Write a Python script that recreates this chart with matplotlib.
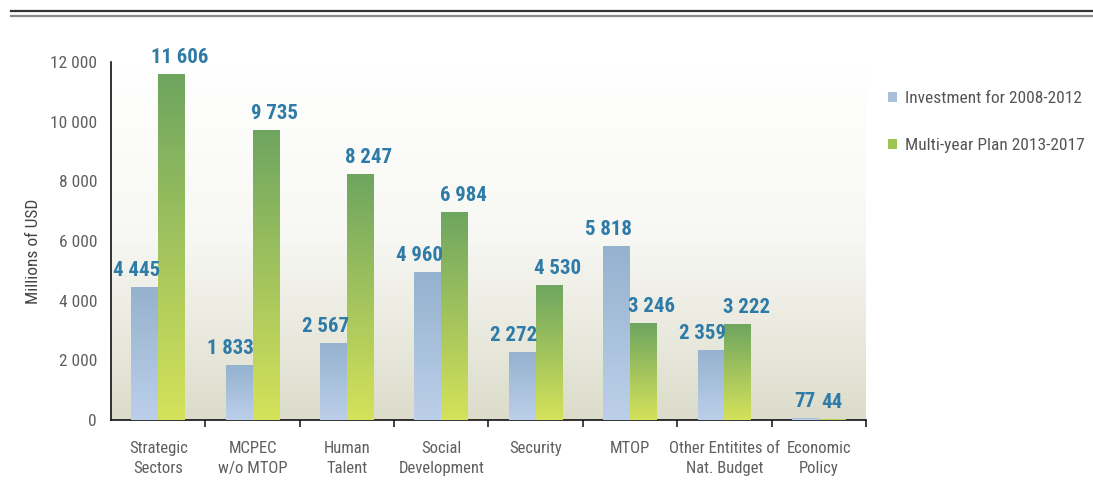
import numpy as np
import matplotlib
matplotlib.use("Agg")
import matplotlib.pyplot as plt
from matplotlib.colors import LinearSegmentedColormap
from matplotlib.patches import Patch
from matplotlib import font_manager

categories = ["Strategic\nSectors", "MCPEC\nw/o MTOP", "Human\nTalent", "Social\nDevelopment",
              "Security", "MTOP", "Other Entitites of\nNat. Budget", "Economic\nPolicy"]
investment_2008_2012 = [4445, 1833, 2567, 4960, 2272, 5818, 2359, 77]
plan_2013_2017 = [11606, 9735, 8247, 6984, 4530, 3246, 3222, 44]
series_names = ["Investment for 2008-2012", "Multi-year Plan 2013-2017"]
yticks = [0, 2000, 4000, 6000, 8000, 10000, 12000]

names = {f.name for f in font_manager.fontManager.ttflist}
FONT = "Roboto"
for cand in ["Roboto Condensed", "Liberation Sans Narrow", "Open Sans Condensed",
             "Noto Sans Condensed", "DejaVu Sans Condensed", "Roboto"]:
    if cand in names:
        FONT = cand
        break
plt.rcParams["font.family"] = [FONT, "DejaVu Sans"]
condensed = FONT not in ("Roboto",)
k = 1.0 if condensed else 0.9

def fmt(v):
    return f"{v:,}".replace(",", " ")

fig = plt.figure(figsize=(10.93, 4.98), dpi=100)
ax = fig.add_axes([111/1093, 1-420/498, 755/1093, 358/498])

x = np.arange(len(categories))
w = 0.285
ax.set_xlim(-0.5, len(categories) - 0.5)
ax.set_ylim(0, 12000)

# background gradient (top white -> bottom beige-grey), limited to the axes area
bg = LinearSegmentedColormap.from_list("bg", ["#ffffff", "#f7f7f3", "#dcdccb"])
grad = np.linspace(0, 1, 256).reshape(-1, 1)
xl, yl = ax.get_xlim(), ax.get_ylim()
ax.imshow(grad, cmap=bg, aspect="auto", extent=[xl[0], xl[1], yl[0], yl[1]],
          zorder=0, vmin=0, vmax=1)

b1 = ax.bar(x - w/2, investment_2008_2012, w, color="#a8bedb", zorder=2)
b2 = ax.bar(x + w/2, plan_2013_2017, w, color="#9cbf5e", zorder=2)

blue_cmap = LinearSegmentedColormap.from_list("b", ["#bccfea", "#95b2ce"])
green_cmap = LinearSegmentedColormap.from_list("g", ["#d5e25a", "#6ea560"])
vgrad = np.linspace(1, 0, 128).reshape(-1, 1)
for bars, cm in ((b1, blue_cmap), (b2, green_cmap)):
    for p in bars:
        x0, y0 = p.get_x(), p.get_y()
        im = ax.imshow(vgrad, cmap=cm, aspect="auto",
                       extent=[x0, x0 + p.get_width(), y0, y0 + p.get_height()],
                       zorder=3, vmin=0, vmax=1)
        im.set_clip_path(p)

lab_color = "#2f7ba8"
for i in range(len(categories)):
    v1, v2 = investment_2008_2012[i], plan_2013_2017[i]
    d1 = 6 if v1 >= 1000 else 0
    d2 = 6 if v2 >= 1000 else 0
    ax.annotate(fmt(v1), (x[i] - w/2, v1), xytext=(-d1, 5), textcoords="offset points",
                ha="center", va="bottom", fontsize=15*k, fontweight="bold", color=lab_color, zorder=5)
    ax.annotate(fmt(v2), (x[i] + w/2, v2), xytext=(d2, 5), textcoords="offset points",
                ha="center", va="bottom", fontsize=15*k, fontweight="bold", color=lab_color, zorder=5)

ax.set_xlim(-0.5, len(categories) - 0.5)
ax.set_ylim(0, 12000)
ax.set_yticks(yticks)
ax.set_yticklabels([fmt(t) for t in yticks], fontsize=12.5*k, color="#5f5f5f")
ax.tick_params(axis="y", length=0, pad=10)
ax.set_xticks(x)
ax.set_xticklabels(categories, fontsize=12*k, color="#5f5f5f", linespacing=1.45)
ax.tick_params(axis="x", which="major", length=0, pad=15)
ax.set_xticks(np.arange(len(categories)) + 0.5, minor=True)
ax.tick_params(axis="x", which="minor", length=5, width=1.2, color="#222222", direction="out")
for s in ("top", "right"):
    ax.spines[s].set_visible(False)
for s in ("left", "bottom"):
    ax.spines[s].set_color("#111111")
    ax.spines[s].set_linewidth(1.2)
ax.set_ylabel("Millions of USD", fontsize=12.5*k, color="#444444", labelpad=6)
ax.yaxis.set_label_coords(-0.093, 0.47)

handles = [Patch(facecolor="#a9bfdc", edgecolor="none"), Patch(facecolor="#9cc450", edgecolor="none")]
fig.legend(handles, series_names, loc="upper left", bbox_to_anchor=(881/1093, 1-84/498),
           frameon=False, fontsize=12.5*k, handlelength=0.55, handleheight=0.55,
           handletextpad=0.45, labelspacing=1.85, labelcolor="#555555", borderaxespad=0)

# top double rule
fig.add_artist(plt.Line2D([11/1093, 1], [1-11.5/498]*2, color="#333333", lw=1.6, transform=fig.transFigure))
fig.add_artist(plt.Line2D([11/1093, 1], [1-16.5/498]*2, color="#8a8a8a", lw=1.6, transform=fig.transFigure))

fig.savefig("out.png", dpi=100)
